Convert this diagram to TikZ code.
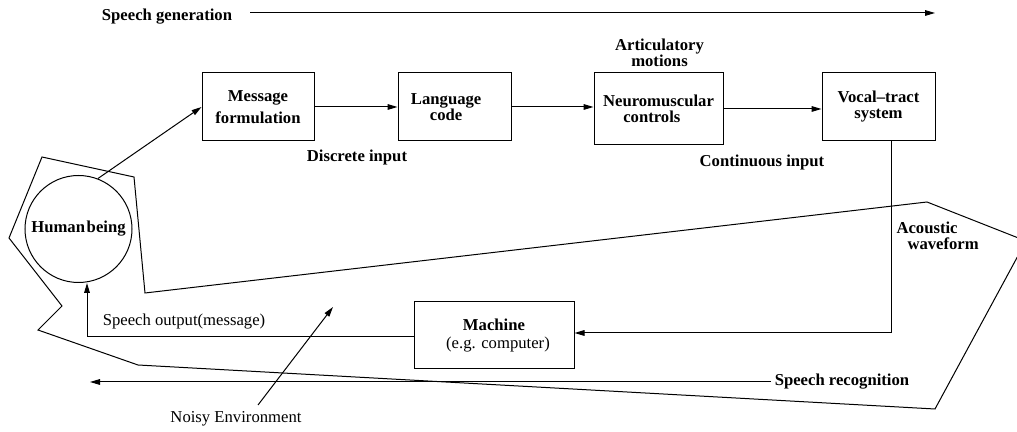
\documentclass[tikz,border=0pt]{standalone}
\usepackage{fontspec}
\setmainfont{Liberation Serif}
\usetikzlibrary{arrows.meta}
\begin{document}
\begin{tikzpicture}[x=0.6pt,y=-0.6pt, line width=0.6pt,
  lbl/.style={font=\fontsize{10}{9.6}\selectfont\bfseries, inner sep=0pt, align=center},
  nlbl/.style={font=\fontsize{10}{12}\selectfont, inner sep=0pt, align=center},
  box/.style={draw, inner sep=0pt, align=center, font=\fontsize{10}{9.6}\selectfont\bfseries},
  arr/.style={-{Triangle[length=6pt,width=3.4pt]}}]
\useasboundingbox (0,0) rectangle (1017,432);
% polygon (environment boundary)
\begin{scope}
\clip (0,0) rectangle (1017,432);
\draw (42,157) -- (134,177) -- (145,293) -- (927,202) -- (1026,241) -- (935,409)
  -- (138,365) -- (38,330) -- (62,306) -- (9,238) -- cycle;
\end{scope}
% speech generation
\node[lbl] (gen) at (167,17) {Speech generation};
\coordinate (genA) at (250,13);
\coordinate (genB) at (935,13);
\draw[arr] (genA) -- (genB);
% boxes
\node[box, minimum width=112*0.6pt, minimum height=68*0.6pt] (msg) at (258,107) {Message\\[4pt]formulation};
\node[box, minimum width=113*0.6pt, minimum height=68*0.6pt] (lang) at (454.5,107) {\hspace*{-10pt}Language\\\hspace*{-10pt}code};
\node[box, minimum width=129*0.6pt, minimum height=72*0.6pt] (neuro) at (658.5,109) {Neuromuscular\\\hspace*{-8pt}controls};
\node[box, minimum width=113*0.6pt, minimum height=68*0.6pt] (vocal) at (878.5,107) {Vocal--tract\\system};
\node[draw, inner sep=0pt, minimum width=160*0.6pt, minimum height=67*0.6pt] (mach) at (494,335.5) {};
\node[lbl] (machA) at (494,325) {Machine};
\node[nlbl] (machB) at (498,345) {(e.g. computer)};
% human
\node[draw, circle, inner sep=0pt, minimum size=107*0.6pt, font=\fontsize{10}{12}\selectfont\bfseries] (hb) at (78.5,229) {Human\hspace{1pt}being};
% labels
\node[lbl] (art) at (659.5,53) {Articulatory\\motions};
\node[lbl] (disc) at (357,157) {Discrete input};
\node[lbl] (cont) at (762,162) {Continuous input};
\node[lbl, anchor=west, align=left] (acou) at (896,236) {Acoustic\\\hspace*{6.6pt}waveform};
\node[nlbl] (sout) at (184,322) {Speech output(message)};
\node[nlbl] (noisy) at (236,419) {Noisy Environment};
\node[lbl] (rec) at (842,382) {Speech recognition};
% connectors
\draw[arr] (hb.69) -- (msg.west);
\draw[arr] (msg.east) -- (lang.west);
\draw[arr] (lang.east) -- (lang.east -| neuro.west);
\draw[arr] (neuro.east) -- (neuro.east -| vocal.west);
\coordinate (vx) at (891,333);
\draw[arr] (vocal.south -| vx) -- (vx) -- (vx -| mach.east);
\coordinate (ol) at (87,337);
\draw[arr] (mach.west |- ol) -- (ol) -- (ol |- hb.south);
\coordinate (nz0) at (258,405);
\coordinate (nzt) at (333,307);
\draw[arr] (nz0) -- (nzt);
\coordinate (recend) at (90,382);
\coordinate (recst) at (771,382);
\draw[arr] (recst) -- (recend);
\end{tikzpicture}
\end{document}
